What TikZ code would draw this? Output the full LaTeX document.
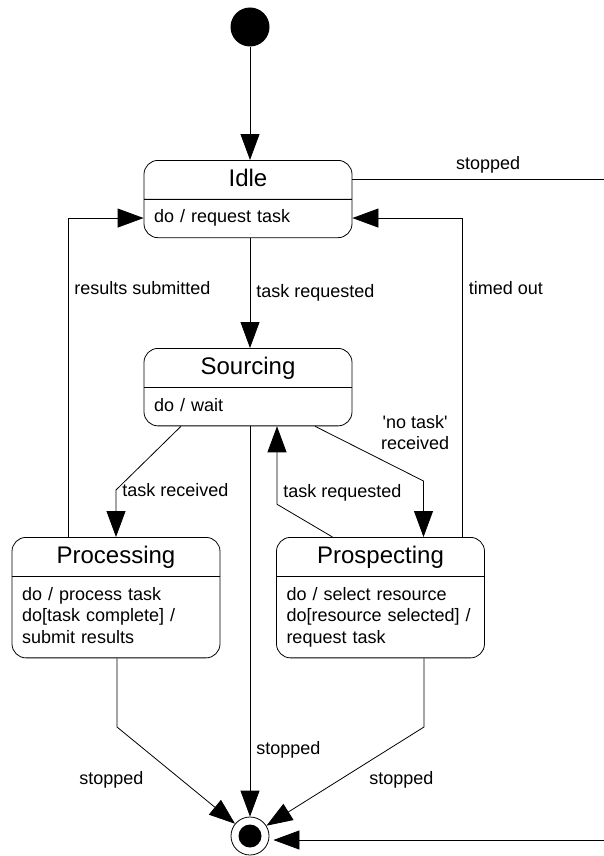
\documentclass[tikz,border=0pt]{standalone}
\usepackage{fontspec}
\setmainfont{Liberation Sans}[Ligatures=TeXOff]
\usetikzlibrary{arrows.meta,shapes.multipart}
\newcommand{\sttl}[1]{\makebox[\linewidth]{\fontsize{24}{16}\selectfont#1\strut}}

\begin{document}
\begin{tikzpicture}[
  x=1pt, y=-1pt,
  font=\fontsize{18}{21.5}\selectfont,
  state/.style={draw, rectangle split, rectangle split parts=2, rounded corners=14pt, text width=188pt, align=left, inner xsep=10pt, inner ysep=8pt, anchor=north, line width=0.8pt},
  initst/.style={circle, fill=black, minimum size=39pt, inner sep=0pt},
  finst/.style={circle, draw, line width=0.8pt, minimum size=38pt, inner sep=0pt, path picture={\fill (path picture bounding box.center) circle (11.5pt);}},
  arr/.style={-{Triangle[length=26pt,width=19pt]}, line width=0.8pt},
  lbl/.style={inner sep=6pt},
]
\useasboundingbox (0,0) rectangle (603,856);
\node[initst] (init) at (250,27) {};
\node[finst] (fin) at (250,836) {};
\node[state] (idle) at (248,160) {\sttl{Idle}\nodepart{two}\strut do / request task\strut};
\node[state] (src) at (248,348) {\sttl{Sourcing}\nodepart{two}\strut do / wait\strut};
\node[state] (proc) at (116,537) {\sttl{Processing}\nodepart{two}\strut do / process task\\do[task complete] /\\submit results\strut};
\node[state] (prosp) at (380.5,537) {\sttl{Prospecting}\nodepart{two}\strut do / select resource\\do[resource selected] /\\request task\strut};
\coordinate (pc) at (117,727);
\coordinate (qc) at (424,727);
\draw[arr] (init) -- (init |- idle.north);
\draw[arr] (idle.south -| init) -- node[lbl, right] {task requested} (src.north -| init);
\draw[arr] ([xshift=-48pt]proc.north) |- node[lbl, right, pos=.39] {results submitted} ([yshift=-19pt]idle.west);
\draw[arr] ([xshift=82pt]prosp.north) |- node[lbl, right, pos=.39] {timed out} ([yshift=-19pt]idle.east);
\draw[arr] ([xshift=-67pt]src.south) -- ([yshift=47pt]proc.north) -- node[lbl, right, pos=0] {task received} (proc.north);
\draw[arr] ([xshift=67pt]src.south) -- node[lbl, pos=.55, above right, align=center] {'no task'\\received} ([xshift=43pt,yshift=56pt]prosp.north) -- ([xshift=43pt]prosp.north);
\draw[arr] ([xshift=-48pt]prosp.north) -- ([xshift=29pt,yshift=-78pt]src.south) -- node[lbl, right, pos=.15] {task requested} ([xshift=29pt]src.south);
\draw[arr] (src.south -| fin) -- node[lbl, right, pos=.83] {stopped} (fin);
\draw[arr] (proc.south -| pc) -- (pc) -- node[lbl, left=32pt, pos=.55] {stopped} (fin);
\draw[arr] (prosp.south -| qc) -- (qc) -- node[lbl, right=24pt, pos=.54] {stopped} (fin);
\draw[arr] ([yshift=19.5pt]idle.east) -- node[lbl, above, pos=.53] {stopped} ++(256,0) |- ([xshift=4pt,yshift=-4pt]fin.east);
\end{tikzpicture}
\end{document}
